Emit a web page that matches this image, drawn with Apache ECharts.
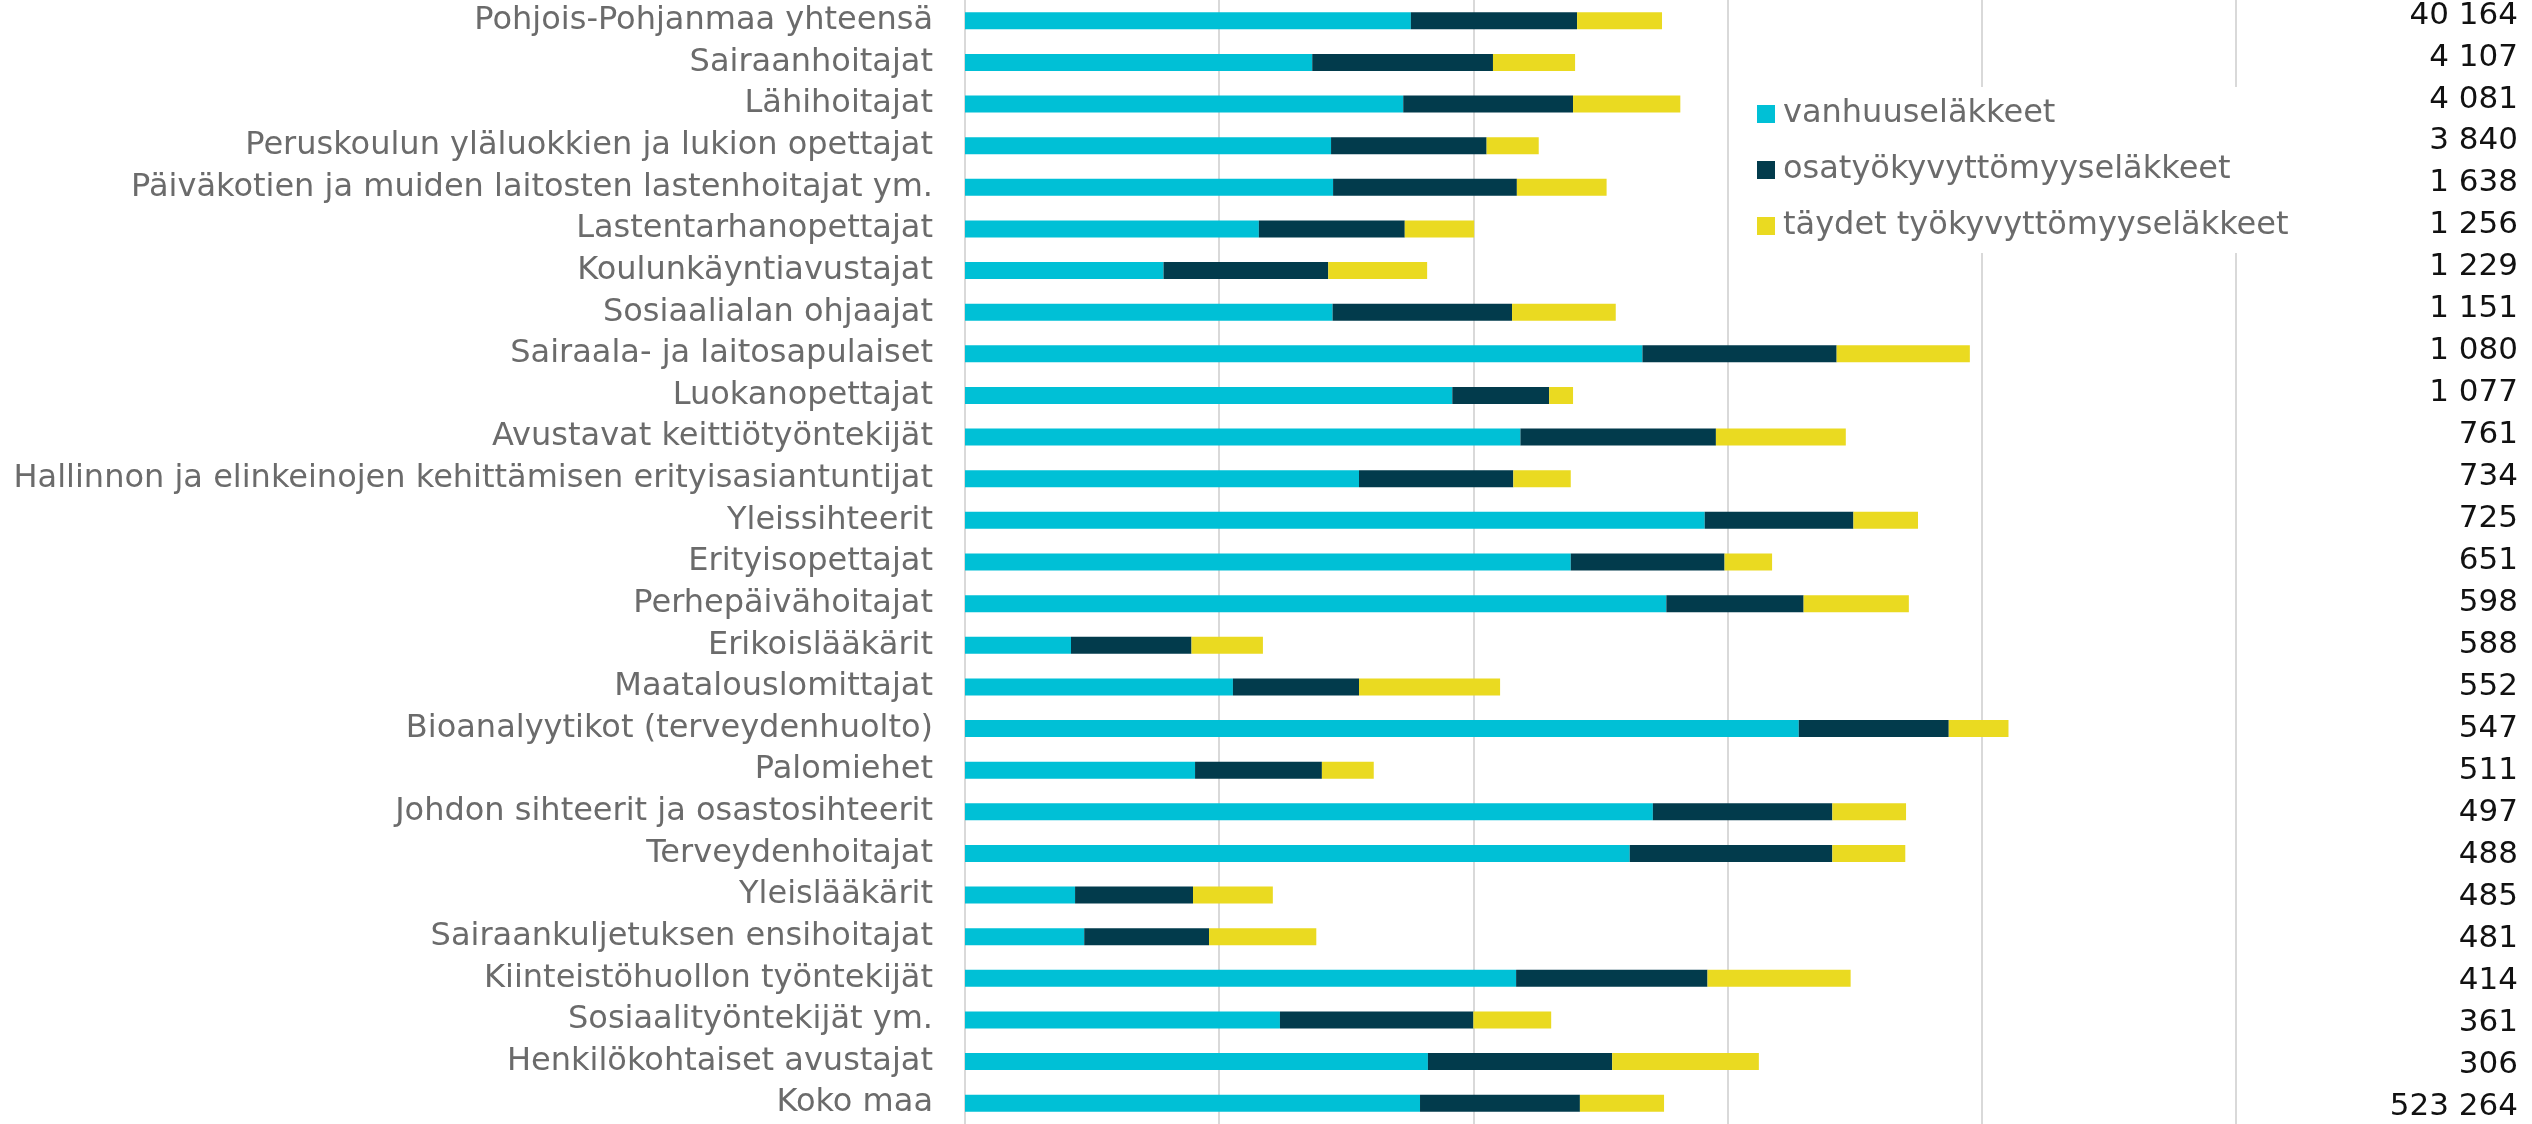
<!DOCTYPE html>
<html>
<head>
<meta charset="utf-8">
<script src="https://cdn.jsdelivr.net/npm/echarts@6/dist/echarts.min.js"></script>
<style>
html,body{margin:0;padding:0;background:#fff;}
#chart{width:2532px;height:1124px;}
</style>
</head>
<body>
<div id="chart"></div>
<script>
const categories = [
  "Pohjois-Pohjanmaa yhteensä",
  "Sairaanhoitajat",
  "Lähihoitajat",
  "Peruskoulun yläluokkien ja lukion opettajat",
  "Päiväkotien ja muiden laitosten lastenhoitajat ym.",
  "Lastentarhanopettajat",
  "Koulunkäyntiavustajat",
  "Sosiaalialan ohjaajat",
  "Sairaala- ja laitosapulaiset",
  "Luokanopettajat",
  "Avustavat keittiötyöntekijät",
  "Hallinnon ja elinkeinojen kehittämisen erityisasiantuntijat",
  "Yleissihteerit",
  "Erityisopettajat",
  "Perhepäivähoitajat",
  "Erikoislääkärit",
  "Maatalouslomittajat",
  "Bioanalyytikot (terveydenhuolto)",
  "Palomiehet",
  "Johdon sihteerit ja osastosihteerit",
  "Terveydenhoitajat",
  "Yleislääkärit",
  "Sairaankuljetuksen ensihoitajat",
  "Kiinteistöhuollon työntekijät",
  "Sosiaalityöntekijät ym.",
  "Henkilökohtaiset avustajat",
  "Koko maa"
];
const vanhuus = [17.54,13.66,17.24,14.40,14.48,11.56,7.81,14.46,26.65,19.17,21.85,15.50,29.10,23.83,27.59,4.17,10.54,32.80,9.05,27.06,26.15,4.33,4.69,21.68,12.39,18.21,17.90];
const osa = [6.54,7.11,6.68,6.12,7.23,5.74,6.48,7.06,7.64,3.81,7.69,6.07,5.85,6.05,5.40,4.74,4.96,5.90,4.99,7.06,7.97,4.64,4.91,7.53,7.61,7.25,6.29];
const taydet = [3.34,3.23,4.22,2.05,3.53,2.73,3.89,4.08,5.24,0.94,5.11,2.26,2.54,1.87,4.14,2.81,5.55,2.35,2.04,2.90,2.87,3.14,4.22,5.63,3.06,5.77,3.31];
const totals = ["40 164","4 107","4 081","3 840","1 638","1 256","1 229","1 151","1 080","1 077","761","734","725","651","598","588","552","547","511","497","488","485","481","414","361","306","523 264"];
const seriesNames = ["vanhuuseläkkeet","osatyökyvyttömyyseläkkeet","täydet työkyvyttömyyseläkkeet"];
const colors = ["#00C0D6","#023B4C","#EADA21"];

const FONT = "DejaVu Sans";
const chart = echarts.init(document.getElementById('chart'), null, {renderer:'canvas'});
const values = [vanhuus, osa, taydet];
chart.setOption({
  animation:false,
  backgroundColor:'#ffffff',
  textStyle:{fontFamily:FONT},
  legend:{
    orient:'vertical',
    left:1735, top:87,
    padding:[11,24,11,22],
    backgroundColor:'#ffffff',
    itemWidth:18, itemHeight:18, itemGap:24,
    icon:'rect',
    textStyle:{fontFamily:FONT, fontSize:32, color:'#6b6b6b', padding:[0,0,0,3]},
    data:seriesNames
  },
  grid:[
    {left:965, right:296, top:0, bottom:0},
    {left:2518, right:13, top:15, bottom:17}
  ],
  xAxis:[
    {type:'value', gridIndex:0, min:0, max:50, interval:10,
     axisLabel:{show:false}, axisTick:{show:false}, axisLine:{show:false},
     splitLine:{show:true, lineStyle:{color:'#d9d9d9', width:2}}},
    {type:'value', gridIndex:1, show:false}
  ],
  yAxis:[
    {type:'category', gridIndex:0, inverse:true, data:categories,
     axisTick:{show:false},
     axisLine:{show:true, lineStyle:{color:'#d9d9d9', width:2}},
     axisLabel:{fontFamily:FONT, fontSize:32, color:'#6b6b6b', margin:32}},
    {type:'category', gridIndex:1, inverse:true, boundaryGap:false, data:totals,
     axisTick:{show:false}, axisLine:{show:false}, splitLine:{show:false},
     axisLabel:{fontFamily:FONT, fontSize:31, color:'#111111', margin:0, interval:0}}
  ],
  series: seriesNames.map((n,i)=>({
    name:n, type:'bar', stack:'total', xAxisIndex:0, yAxisIndex:0,
    barWidth:17, data:values[i], itemStyle:{color:colors[i]}
  }))
});
</script>
</body>
</html>
